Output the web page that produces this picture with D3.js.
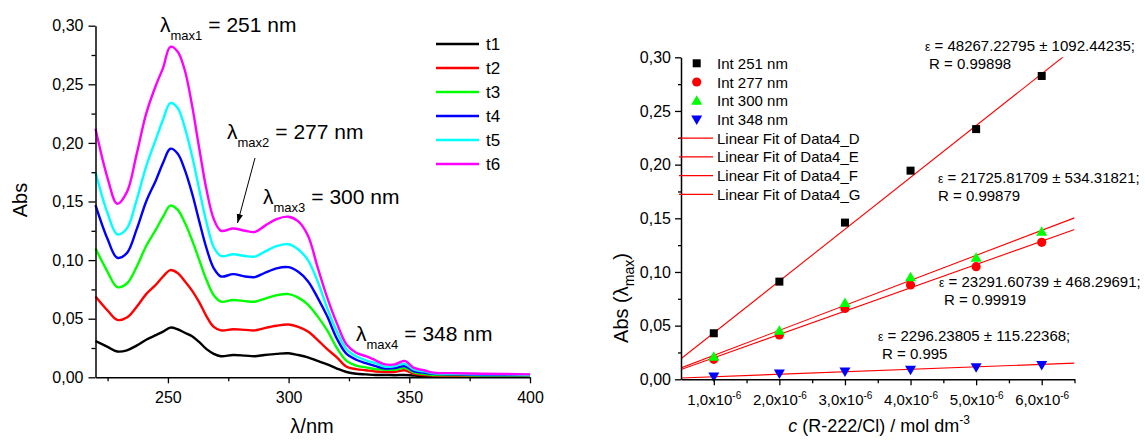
<!DOCTYPE html>
<html><head><meta charset="utf-8">
<script src="https://cdn.jsdelivr.net/npm/d3@7"></script>
<style>
body{margin:0;background:#fff}
svg{display:block}
text{font-family:Arial,"Liberation Sans",sans-serif;fill:#000}
</style>
</head><body>
<svg id="c" width="1145" height="441"></svg>
<script>
// ---------- Left panel: UV-Vis spectra ----------
const wavelengths = [220,225,229,233,237,241,245,248,251,254,257,260,263,266,269,272,277,282,286,290,295,300,304,308,312,316,320,324,328,332,336,340,344,348,352,356,360,370,380,390,400];
const t1 = [0.031,0.026,0.022,0.023,0.027,0.032,0.036,0.039,0.0424,0.041,0.038,0.035,0.030,0.024,0.020,0.018,0.019,0.0185,0.018,0.019,0.020,0.0205,0.019,0.017,0.014,0.011,0.0075,0.0045,0.003,0.0025,0.002,0.002,0.0018,0.002,0.0015,0.0012,0.001,0.001,0.001,0.001,0.001];
const t2 = [0.069,0.057,0.049,0.051,0.060,0.071,0.079,0.086,0.0915,0.089,0.082,0.074,0.064,0.052,0.043,0.040,0.041,0.0405,0.040,0.042,0.044,0.045,0.043,0.039,0.032,0.024,0.017,0.009,0.007,0.006,0.005,0.0045,0.0045,0.006,0.003,0.002,0.0015,0.0012,0.001,0.001,0.001];
const t3 = [0.110,0.090,0.077,0.080,0.094,0.112,0.126,0.137,0.1465,0.143,0.132,0.117,0.100,0.083,0.070,0.0645,0.066,0.065,0.0645,0.067,0.070,0.071,0.068,0.062,0.052,0.040,0.025,0.014,0.010,0.0085,0.007,0.0065,0.0065,0.008,0.004,0.003,0.002,0.002,0.0015,0.0015,0.0015];
const t4 = [0.147,0.118,0.102,0.106,0.126,0.150,0.168,0.183,0.195,0.191,0.177,0.157,0.133,0.110,0.093,0.086,0.088,0.086,0.0855,0.089,0.093,0.094,0.090,0.082,0.068,0.052,0.033,0.020,0.015,0.012,0.0095,0.0075,0.0078,0.0095,0.005,0.004,0.003,0.0025,0.002,0.002,0.002];
const t5 = [0.175,0.140,0.122,0.127,0.151,0.180,0.203,0.220,0.234,0.230,0.213,0.189,0.160,0.132,0.111,0.1035,0.105,0.1035,0.103,0.107,0.112,0.1135,0.109,0.100,0.082,0.059,0.039,0.024,0.018,0.0145,0.012,0.009,0.0095,0.0115,0.0065,0.005,0.0035,0.003,0.0025,0.0025,0.002];
const t6 = [0.212,0.170,0.148,0.158,0.190,0.225,0.249,0.264,0.282,0.278,0.262,0.232,0.195,0.160,0.135,0.125,0.127,0.125,0.124,0.129,0.135,0.137,0.133,0.121,0.094,0.068,0.046,0.028,0.021,0.018,0.0145,0.011,0.011,0.014,0.008,0.006,0.004,0.0035,0.003,0.0028,0.0025];
const spectraNames = ["t1","t2","t3","t4","t5","t6"];
const spectraColors = ["#000000","#ff0000","#00ff00","#0000ff","#00ffff","#ff00ff"];
const spectraXTicks = [250,300,350,400];
const spectraXMinor = [225,275,325,375];
const absTicks = [0,0.05,0.10,0.15,0.20,0.25,0.30];
const absMinor = [0.025,0.075,0.125,0.175,0.225,0.275];
const peakLabels = [
  {sub:"max1", val:"= 251 nm"},
  {sub:"max2", val:"= 277 nm"},
  {sub:"max3", val:"= 300 nm"},
  {sub:"max4", val:"= 348 nm"}
];

// ---------- Right panel: calibration ----------
const concentrations = [1e-6,2e-6,3e-6,4e-6,5e-6,6e-6];
const int251 = [0.0429,0.091,0.146,0.1944,0.2331,0.2826];
const int277 = [0.0186,0.0413,0.066,0.0879,0.1049,0.1276];
const int300 = [0.021,0.0453,0.071,0.095,0.1133,0.1375];
const int348 = [0.0025,0.0055,0.0072,0.0088,0.0112,0.0133];
const intNames = ["Int 251 nm","Int 277 nm","Int 300 nm","Int 348 nm"];
const intColors = ["#000000","#ff0000","#00ff00","#0000ff"];
const fitNames = ["Linear Fit of Data4_D","Linear Fit of Data4_E","Linear Fit of Data4_F","Linear Fit of Data4_G"];
const fitSlopes = [48267.22795,21725.81709,23291.60739,2296.23805];
const fitIntercepts = [-0.005,-0.0017,-0.001,0.0001];
const epsLabels = ["48267.22795 \u00b1 1092.44235;","21725.81709 \u00b1 534.31821;","23291.60739 \u00b1 468.29691;","2296.23805 \u00b1 115.22368;"];
const rLabels = ["R = 0.99898","R = 0.99879","R = 0.99919","R = 0.995"];
const concTicks = [1e-6,2e-6,3e-6,4e-6,5e-6,6e-6];
const concMinor = [1.5e-6,2.5e-6,3.5e-6,4.5e-6,5.5e-6,6.5e-6];

const svg = d3.select("#c");
const comma = v => d3.format(".2f")(v).replace(".", ",");

// ===== LEFT =====
const xL = d3.scaleLinear().domain([220,400]).range([95.5,530]);
const yL = d3.scaleLinear().domain([0,0.30]).range([377.3,25.7]);
const gL = svg.append("g");

const lineL = d3.line().curve(d3.curveCatmullRom.alpha(0.5)).x(d=>xL(d[0])).y(d=>yL(d[1]));
[t1,t2,t3,t4,t5,t6].forEach((s,i)=>{
  gL.append("path").datum(wavelengths.map((w,j)=>[w,s[j]]))
    .attr("d",lineL).attr("fill","none").attr("stroke",spectraColors[i])
    .attr("stroke-width",2.4).attr("stroke-linejoin","round");
});

function styleAxis(g, fs){
  g.select(".domain").attr("stroke","#000").attr("stroke-width",1.5);
  g.selectAll(".tick line").attr("stroke","#000").attr("stroke-width",1.3);
  g.selectAll("text").attr("font-size",fs).attr("fill","#000").attr("font-family","Arial, 'Liberation Sans', sans-serif");
}
const axLx = gL.append("g").attr("transform",`translate(0,${yL(0)})`)
  .call(d3.axisBottom(xL).tickValues(spectraXTicks).tickSize(6).tickPadding(8).tickSizeOuter(0));
styleAxis(axLx,16);
const axLxm = gL.append("g").attr("transform",`translate(0,${yL(0)})`)
  .call(d3.axisBottom(xL).tickValues(spectraXMinor).tickSize(4).tickFormat(""));
axLxm.select(".domain").remove(); styleAxis(axLxm,16);
const axLy = gL.append("g").attr("transform",`translate(${xL(220)},0)`)
  .call(d3.axisLeft(yL).tickValues(absTicks).tickFormat(comma).tickSize(7).tickPadding(5).tickSizeOuter(0));
styleAxis(axLy,16);
const axLym = gL.append("g").attr("transform",`translate(${xL(220)},0)`)
  .call(d3.axisLeft(yL).tickValues(absMinor).tickSize(4).tickFormat(""));
axLym.select(".domain").remove(); styleAxis(axLym,16);

gL.append("text").attr("transform","translate(27,200) rotate(-90)").attr("text-anchor","middle")
  .attr("font-size",20).text("Abs");
gL.append("text").attr("x",312).attr("y",433).attr("text-anchor","middle").attr("font-size",20).text("\u03bb/nm");

// legend
spectraNames.forEach((n,i)=>{
  const y = 44 + i*24;
  gL.append("line").attr("x1",436).attr("x2",479).attr("y1",y).attr("y2",y)
    .attr("stroke",spectraColors[i]).attr("stroke-width",2.5);
  gL.append("text").attr("x",486).attr("y",y+6).attr("font-size",17).text(n);
});

// peak annotations
const peakPos = [[160,32],[227,139],[263,204],[356,341]];
peakLabels.forEach((p,i)=>{
  const [x,y] = peakPos[i];
  const t = gL.append("text").attr("x",x).attr("y",y).attr("font-size",21);
  t.append("tspan").text("\u03bb");
  t.append("tspan").attr("font-size",13).attr("dy",8).text(p.sub);
  t.append("tspan").attr("dy",-8).attr("dx",6).text(p.val);
});
// arrow
svg.append("defs").append("marker").attr("id","ah").attr("viewBox","0 0 10 10")
  .attr("refX",10).attr("refY",5).attr("markerWidth",9).attr("markerHeight",9)
  .attr("markerUnits","userSpaceOnUse").attr("orient","auto")
  .append("path").attr("d","M0,1.5 L10,5 L0,8.5 Z").attr("fill","#000");
gL.append("line").attr("x1",255).attr("y1",158).attr("x2",237.5).attr("y2",223)
  .attr("stroke","#000").attr("stroke-width",1).attr("marker-end","url(#ah)");

// ===== RIGHT =====
const xR = d3.scaleLinear().domain([0.5e-6,6.5e-6]).range([681,1074.5]);
const yR = d3.scaleLinear().domain([0,0.30]).range([379.3,57.3]);
const gR = svg.append("g");

svg.select("defs").append("clipPath").attr("id","clipR").append("rect")
  .attr("x",xR(0.5e-6)).attr("y",yR(0.30)).attr("width",xR(6.5e-6)-xR(0.5e-6)).attr("height",yR(0)-yR(0.30));

// fit lines
fitSlopes.forEach((m,i)=>{
  const b = fitIntercepts[i];
  const x0 = 0.5e-6, x1 = 6.5e-6;
  gR.append("line").attr("clip-path","url(#clipR)")
    .attr("x1",xR(x0)).attr("y1",yR(b+m*x0)).attr("x2",xR(x1)).attr("y2",yR(b+m*x1))
    .attr("stroke","#ff0000").attr("stroke-width",1.1);
});

// markers
function marker(g, type, x, y, color){
  if(type===0) g.append("rect").attr("x",x-4).attr("y",y-4).attr("width",8).attr("height",8).attr("fill",color);
  else if(type===1) g.append("circle").attr("cx",x).attr("cy",y).attr("r",4.6).attr("fill",color);
  else if(type===2) g.append("path").attr("d",`M${x},${y-5.5} L${x+5.5},${y+4} L${x-5.5},${y+4} Z`).attr("fill",color);
  else g.append("path").attr("d",`M${x},${y+5.5} L${x+5.5},${y-4} L${x-5.5},${y-4} Z`).attr("fill",color);
}
[int251,int277,int300,int348].forEach((s,i)=>{
  s.forEach((v,j)=> marker(gR,i,xR(concentrations[j]),yR(v),intColors[i]));
});

// axes
const axRx = gR.append("g").attr("transform",`translate(0,${yR(0)})`)
  .call(d3.axisBottom(xR).tickValues(concTicks).tickSize(6).tickPadding(9).tickSizeOuter(0)
  .tickFormat(()=>""));
styleAxis(axRx,15);
axRx.selectAll(".tick").each(function(d){
  const t = d3.select(this).select("text").text(null).attr("font-size",15);
  t.append("tspan").text(comma(d*1e6).slice(0,3)+"x10");
  t.append("tspan").attr("font-size",10).attr("dy",-6).text("-6");
});
const axRxm = gR.append("g").attr("transform",`translate(0,${yR(0)})`)
  .call(d3.axisBottom(xR).tickValues(concMinor).tickSize(4).tickFormat(""));
axRxm.select(".domain").remove(); styleAxis(axRxm,15);
const axRy = gR.append("g").attr("transform",`translate(${xR(0.5e-6)},0)`)
  .call(d3.axisLeft(yR).tickValues(absTicks).tickFormat(comma).tickSize(6).tickPadding(4).tickSizeOuter(0));
styleAxis(axRy,16);
const axRym = gR.append("g").attr("transform",`translate(${xR(0.5e-6)},0)`)
  .call(d3.axisLeft(yR).tickValues(absMinor).tickSize(3).tickFormat(""));
axRym.select(".domain").remove(); styleAxis(axRym,16);

// axis titles
const ty = gR.append("text").attr("transform","translate(628,298) rotate(-90)").attr("text-anchor","middle").attr("font-size",20);
ty.append("tspan").text("Abs (\u03bb");
ty.append("tspan").attr("font-size",14).attr("dy",6).text("max");
ty.append("tspan").attr("dy",-6).text(")");
const tx = gR.append("text").attr("x",879).attr("y",432).attr("text-anchor","middle").attr("font-size",18);
tx.append("tspan").attr("font-style","italic").text("c");
tx.append("tspan").text(" (R-222/Cl) / mol dm");
tx.append("tspan").attr("font-size",12).attr("dy",-8).text("-3");

// legend
const legY0 = 63.3, legDy = 18.72;
intNames.forEach((n,i)=>{
  const y = legY0 + i*legDy;
  marker(gR,i,696.7,y,intColors[i]);
  gR.append("text").attr("x",717).attr("y",y+5.5).attr("font-size",15).text(n);
});
fitNames.forEach((n,i)=>{
  const y = legY0 + (i+4)*legDy;
  gR.append("line").attr("x1",679).attr("x2",713).attr("y1",y).attr("y2",y).attr("stroke","#ff0000").attr("stroke-width",1.2);
  gR.append("text").attr("x",717).attr("y",y+5.5).attr("font-size",15).text(n);
});

// epsilon annotations
const epsPos = [[925,50.7,929,69],[938,182.7,938,200.7],[939,287,944,305],[878,341,882,359]];
epsLabels.forEach((e,i)=>{
  const [ex,ey,rx,ry] = epsPos[i];
  const t = gR.append("text").attr("x",ex).attr("y",ey).attr("font-size",15);
  t.append("tspan").attr("font-size",12).text("\u03b5");
  t.append("tspan").text(" = " + e);
  gR.append("text").attr("x",rx).attr("y",ry).attr("font-size",15).text(rLabels[i]);
});
</script>
</body></html>
